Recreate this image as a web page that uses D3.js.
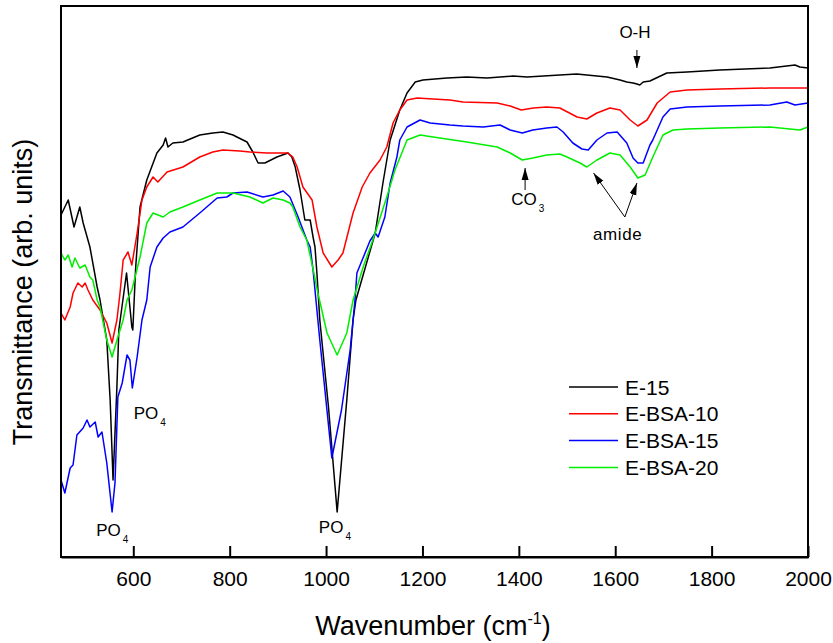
<!DOCTYPE html>
<html>
<head>
<meta charset="utf-8">
<script src="https://cdn.jsdelivr.net/npm/d3@7"></script>
<style>
  html, body { margin: 0; padding: 0; background: #fff; }
  svg { display: block; font-family: "Liberation Sans", Arial, sans-serif; }
</style>
</head>
<body>
<svg id="chart" width="833" height="643"></svg>
<script>
// ---- Data (wavenumber cm^-1, transmittance arb. units) ----
const seriesNames = ["E-15", "E-BSA-10", "E-BSA-15", "E-BSA-20"];
const seriesColors = ["#000000", "#ff0000", "#0000ff", "#00ee00"];
const xTicks = [600, 800, 1000, 1200, 1400, 1600, 1800, 2000];

const e15 = [[450,342],[465,357],[477,330],[489,350],[496,334],[510,310],[525,270],[531,257],[545,217],[552,157],[558,77],[566,170],[570,227],[586,284],[597,230],[599,227],[605,290],[614,350],[628,377],[649,404],[662,412],[667,419],[672,410],[682,414],[703,415],[738,422],[765,424],[786,425],[807,422],[815,420],[836,415],[848,405],[859,394],[873,394],[898,400],[921,404],[929,400],[936,390],[946,367],[956,337],[967,337],[973,320],[977,310],[981,284],[987,237],[1005,150],[1023,45],[1043,157],[1056,237],[1062,257],[1102,324],[1118,374],[1133,417],[1153,447],[1168,464],[1185,475],[1201,477],[1251,479],[1292,480],[1334,479],[1388,481],[1417,480],[1485,482],[1520,483],[1583,480],[1610,477],[1624,475],[1637,474],[1645,473],[1651,472],[1658,475],[1672,476],[1707,484],[1749,485],[1817,487],[1921,489],[1973,492],[1983,490],[2000,489]];

const eBsa10 = [[450,244],[458,237],[469,250],[475,264],[485,274],[494,270],[500,274],[506,267],[516,257],[531,247],[545,234],[556,214],[566,237],[572,262],[579,297],[589,305],[597,292],[608,324],[618,357],[628,370],[641,380],[651,375],[670,385],[703,390],[738,400],[765,405],[786,407],[821,406],[842,405],[877,404],[921,404],[931,400],[940,390],[952,370],[971,357],[981,330],[994,304],[1012,290],[1025,297],[1035,304],[1056,344],[1075,370],[1091,384],[1112,397],[1126,410],[1139,434],[1153,447],[1168,457],[1189,459],[1222,458],[1257,457],[1284,455],[1355,454],[1382,451],[1405,447],[1430,449],[1458,450],[1485,449],[1521,440],[1541,438],[1562,444],[1589,449],[1610,447],[1631,437],[1647,431],[1666,437],[1687,454],[1714,465],[1749,467],[1817,468],[1921,469],[2000,469]];

const eBsa15 = [[450,77],[458,64],[469,89],[475,92],[483,122],[496,129],[504,137],[510,130],[521,135],[527,120],[535,125],[545,94],[556,45],[562,74],[568,160],[577,174],[587,202],[593,197],[598,169],[608,200],[618,237],[628,257],[635,290],[649,310],[662,319],[676,325],[703,330],[738,344],[774,359],[794,360],[807,364],[836,365],[869,360],[890,362],[911,366],[925,360],[942,340],[960,317],[967,310],[973,287],[987,217],[1012,99],[1032,147],[1050,207],[1060,257],[1064,284],[1091,316],[1102,324],[1108,320],[1122,340],[1133,374],[1147,400],[1153,417],[1168,430],[1195,437],[1216,434],[1257,432],[1284,431],[1326,430],[1361,432],[1382,427],[1407,424],[1429,427],[1458,429],[1479,430],[1492,425],[1512,414],[1531,408],[1544,407],[1562,417],[1583,424],[1604,425],[1624,414],[1637,399],[1647,394],[1658,394],[1672,412],[1678,417],[1699,440],[1714,448],[1749,450],[1817,451],[1921,452],[1956,455],[1973,452],[2000,454]];

const eBsa20 = [[450,304],[458,297],[465,302],[473,290],[479,299],[489,289],[500,292],[510,280],[516,277],[525,257],[531,250],[545,217],[556,200],[568,220],[579,237],[587,257],[597,267],[614,300],[628,334],[641,344],[662,340],[676,345],[703,350],[738,357],[774,364],[807,364],[842,360],[869,354],[890,359],[911,357],[925,354],[931,350],[946,330],[960,317],[973,288],[983,264],[1002,224],[1023,202],[1043,224],[1056,257],[1077,290],[1097,317],[1126,360],[1143,387],[1168,417],[1195,422],[1236,419],[1292,415],[1355,410],[1382,404],[1407,397],[1429,399],[1458,402],[1485,403],[1500,400],[1527,394],[1541,390],[1562,397],[1589,404],[1610,402],[1631,390],[1647,379],[1662,382],[1678,400],[1699,422],[1720,427],[1749,428],[1817,429],[1921,430],[1983,427],[2000,430]];

const seriesData = [e15, eBsa10, eBsa15, eBsa20];

// ---- Layout ----
const svg = d3.select("#chart");
const plotLeft = 61, plotRight = 808, plotTop = 6, plotBottom = 557;
const x = d3.scaleLinear().domain([450, 2000]).range([plotLeft, plotRight]);
const y = d3.scaleLinear().domain([0, 551]).range([plotBottom, plotTop]);

// Curves
const line = d3.line().x(d => x(d[0])).y(d => y(d[1]));
svg.append("g").selectAll("path")
  .data(seriesData)
  .join("path")
  .attr("d", line)
  .attr("fill", "none")
  .attr("stroke", (d, i) => seriesColors[i])
  .attr("stroke-width", 1.5)
  .attr("stroke-linejoin", "round");

// Frame
svg.append("rect")
  .attr("x", plotLeft).attr("y", plotTop)
  .attr("width", plotRight - plotLeft).attr("height", plotBottom - plotTop)
  .attr("fill", "none").attr("stroke", "#000").attr("stroke-width", 2);

// Bottom axis with inward ticks
const xAxis = d3.axisBottom(x).tickValues(xTicks).tickSizeInner(-11).tickSizeOuter(0).tickPadding(18).tickFormat(d3.format("d"));
const gx = svg.append("g").attr("transform", `translate(0,${plotBottom})`).call(xAxis);
gx.select(".domain").attr("stroke", "#000").attr("stroke-width", 2);
gx.selectAll(".tick line").attr("stroke", "#000").attr("stroke-width", 2);
gx.selectAll(".tick text").attr("font-size", 21).attr("fill", "#000")
  .attr("font-family", "Liberation Sans, Arial, sans-serif").attr("dy", 0).attr("y", 29);

// Axis titles
const xTitle = svg.append("text").attr("x", 433).attr("y", 635).attr("text-anchor", "middle")
  .attr("font-size", 27).attr("fill", "#000");
xTitle.append("tspan").text("Wavenumber (cm");
xTitle.append("tspan").attr("font-size", 16).attr("dy", -11).text("-1");
xTitle.append("tspan").attr("dy", 11).text(")");

svg.append("text").attr("transform", "translate(32,292) rotate(-90)")
  .attr("text-anchor", "middle").attr("font-size", 27).attr("fill", "#000")
  .text("Transmittance (arb. units)");

// Legend
const lg = svg.append("g");
seriesNames.forEach((name, i) => {
  const ly = 387 + i * 26.8;
  lg.append("line").attr("x1", 569).attr("x2", 618).attr("y1", ly).attr("y2", ly)
    .attr("stroke", seriesColors[i]).attr("stroke-width", 1.5);
  lg.append("text").attr("x", 625).attr("y", ly + 7.5).attr("font-size", 21).attr("fill", "#000").text(name);
});

// Annotations (positioned in data units)
const defs = svg.append("defs");
defs.append("marker").attr("id", "arr").attr("viewBox", "0 -4 12 8")
  .attr("refX", 12).attr("refY", 0).attr("markerWidth", 12).attr("markerHeight", 8)
  .attr("markerUnits", "userSpaceOnUse").attr("orient", "auto")
  .append("path").attr("d", "M0,-3.5L12,0L0,3.5Z").attr("fill", "#000");

const subLabels = [
  { main: "PO", sub: "4", wn: 523, v: 21 },
  { main: "PO", sub: "4", wn: 601, v: 138 },
  { main: "PO", sub: "4", wn: 985, v: 24 },
  { main: "CO", sub: "3", wn: 1384, v: 352 }
];
subLabels.forEach(l => {
  const t = svg.append("text").attr("x", x(l.wn)).attr("y", y(l.v)).attr("font-size", 17).attr("fill", "#000");
  t.append("tspan").text(l.main);
  t.append("tspan").attr("font-size", 10).attr("dx", 2).attr("dy", 7).text(l.sub);
});
svg.append("text").attr("x", x(1641)).attr("y", y(519)).attr("text-anchor", "middle")
  .attr("font-size", 17).attr("fill", "#000").text("O-H");
svg.append("text").attr("x", x(1554)).attr("y", y(317))
  .attr("font-size", 17).attr("fill", "#000").attr("letter-spacing", 0.6).text("amide");

const arrows = [
  { from: [1645, 507], to: [1645, 489] },
  { from: [1413, 367], to: [1413, 389] },
  { from: [1620, 340], to: [1555, 384] },
  { from: [1620, 340], to: [1645, 374] }
];
svg.append("g").selectAll("line").data(arrows).join("line")
  .attr("x1", d => x(d.from[0])).attr("y1", d => y(d.from[1]))
  .attr("x2", d => x(d.to[0])).attr("y2", d => y(d.to[1]))
  .attr("stroke", "#000").attr("stroke-width", 1)
  .attr("marker-end", "url(#arr)");
</script>
</body>
</html>
